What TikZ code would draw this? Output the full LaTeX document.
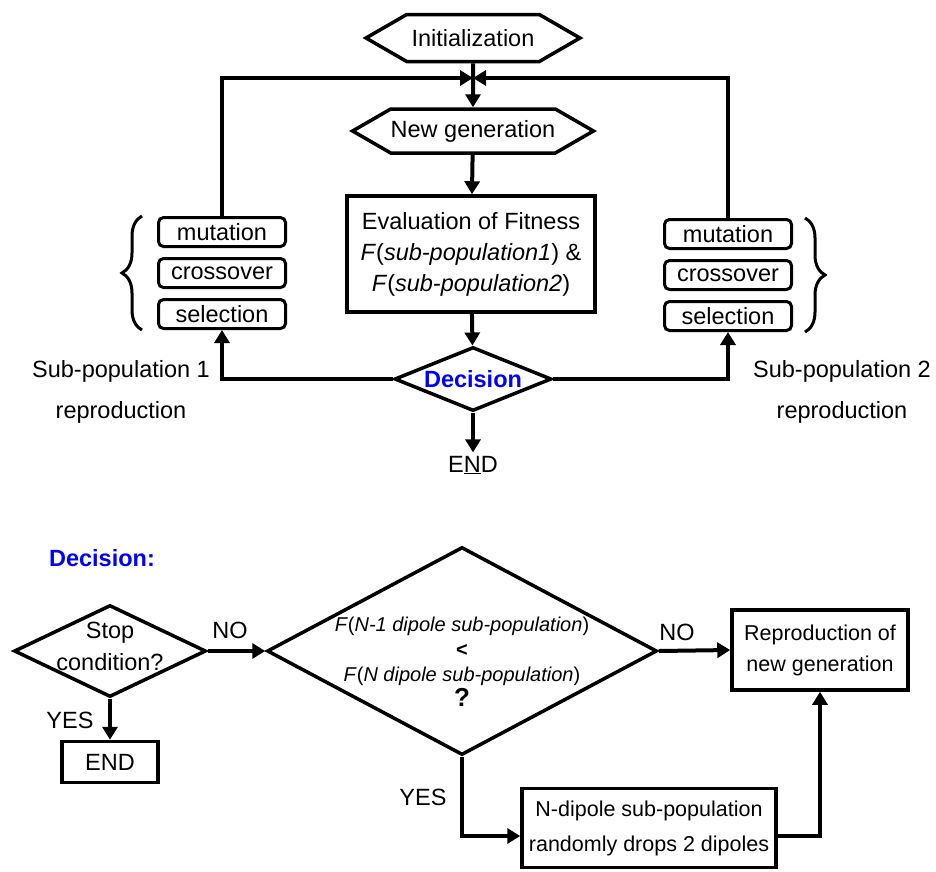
\documentclass[tikz,border=0pt]{standalone}
\usepackage{fontspec}
\setmainfont{Liberation Sans}
\usepackage{tikz}
\usetikzlibrary{shapes.geometric,shapes.symbols}
\usetikzlibrary{arrows.meta,decorations.pathreplacing}
\usetikzlibrary{calc,positioning}

\newcommand{\bigtxt}{\fontsize{23.5}{31}\selectfont}
\newcommand{\midtxt}{\fontsize{21.5}{31}\selectfont}
\newcommand{\smalltxt}{\fontsize{20}{25}\selectfont}

\begin{document}
\begin{tikzpicture}[x=1pt,y=-1pt,
    every node/.style={font=\bigtxt},
    hexa/.style={signal, signal to=west and east, signal pointer angle=60, draw, line width=3.5pt, inner sep=0pt},
    box/.style={rectangle, draw, line width=3.5pt, align=center, inner sep=0pt},
    opbox/.style={rectangle, rounded corners=5pt, draw, line width=3pt, minimum width=127pt, minimum height=29pt, inner sep=0pt},
    test/.style={diamond, draw, line width=3.5pt, inner sep=0pt},
    arr/.style={line width=4pt, -{Triangle[length=13pt,width=15pt]}},
    brc/.style={decorate, decoration={brace, amplitude=20pt}, line width=3pt}]

    \useasboundingbox (0,0) rectangle (936,871);

    % main loop
    \node[hexa, minimum width=214pt, minimum height=47pt] (init) at (473,38) {Initialization};
    \coordinate (merge) at (473,78);
    \node[hexa, minimum width=237pt, minimum height=44pt] (newgen) at (473,131) {New generation};
    \node[box, minimum width=248pt, minimum height=116pt] (eval) at (471,254)
        {Evaluation of Fitness\\ \textit{F}(\textit{sub-population1}) \&\\ \textit{F}(\textit{sub-population2})};
    \node[test, minimum width=157pt, minimum height=64pt,
          label={[text=blue, font=\bigtxt\bfseries]center:Decision}] (dec) at (473,379) {};
    \node (end) at (473,465) {E\underline{N}D};

    % operators of the two sub-populations
    \foreach \s/\x/\y in {L/222/232, R/728/234}{
        \node[opbox] (mut\s) at (\x,\y) {mutation};
        \node[opbox, below=9pt of mut\s] (crs\s) {crossover};
        \node[opbox, below=9pt of crs\s] (sel\s) {selection};
    }
    \draw[brc] ([xshift=-15pt]selL.south west) -- ([xshift=-15pt]mutL.north west);
    \draw[brc] ([xshift=12pt]mutR.north east) -- ([xshift=12pt]selR.south east);

    \node[align=center, font=\fontsize{23.5}{41}\selectfont] (sub1) at (121,392) {Sub-population 1\\reproduction};
    \node[align=center, font=\fontsize{23.5}{41}\selectfont] (sub2) at (842,392) {Sub-population 2\\reproduction};

    \draw[arr] (init) -- (newgen);
    \draw[arr] (mutL.north) |- (merge);
    \draw[arr] (mutR.north) |- (merge);
    \draw[arr] (newgen) -- (eval);
    \draw[arr] (eval) -- (dec);
    \draw[arr] (dec) -- (end);
    \draw[arr] (dec.west) -| (selL.south);
    \draw[arr] (dec.east) -| (selR.south);

    % the decision step
    \node[text=blue, font=\bigtxt\bfseries] (dectitle) at (102,558) {Decision:};
    \node[test, minimum width=192pt, minimum height=92pt] (stop) at (110,651) {};
    \node[align=center, font=\fontsize{23.5}{32}\selectfont] (stoptxt) at (110,646) {Stop\\condition?};
    \node[box, minimum width=96pt, minimum height=41pt] (endB) at (110,762) {END};

    \node[test, minimum width=390pt, minimum height=208pt] (cmp) at (462,651) {};
    \node[align=center, font=\smalltxt] (cmptxt) at (462,662)
        {\textit{F}(\textit{N-1 dipole sub-population})\\ \textbf{<}\\
         \textit{F}(\textit{N dipole sub-population})\\ {\fontsize{26}{26}\selectfont\textbf{?}}};

    \node[box, minimum width=176pt, minimum height=80pt, font=\midtxt] (repro) at (820,650) {Reproduction of\\new generation};
    \node[box, minimum width=254pt, minimum height=79pt, font=\fontsize{21.5}{35}\selectfont] (drop) at (649,828)
        {N-dipole sub-population\\randomly drops 2 dipoles};

    \node (no1) at (230,630) {NO};
    \node (yes1) at (70,720) {YES};
    \node (no2) at (677,632) {NO};
    \node (yes2) at (423,797) {YES};

    \draw[arr] (stop.east) -- (cmp.west);
    \draw[arr] (stop.south) -- (endB.north);
    \draw[arr] (cmp.east) -- (repro.west);
    \draw[arr] (cmp.south) |- ([yshift=-8pt]drop.west);
    \draw[arr] ([yshift=-8pt]drop.east) -| (repro.south);

\end{tikzpicture}
\end{document}
